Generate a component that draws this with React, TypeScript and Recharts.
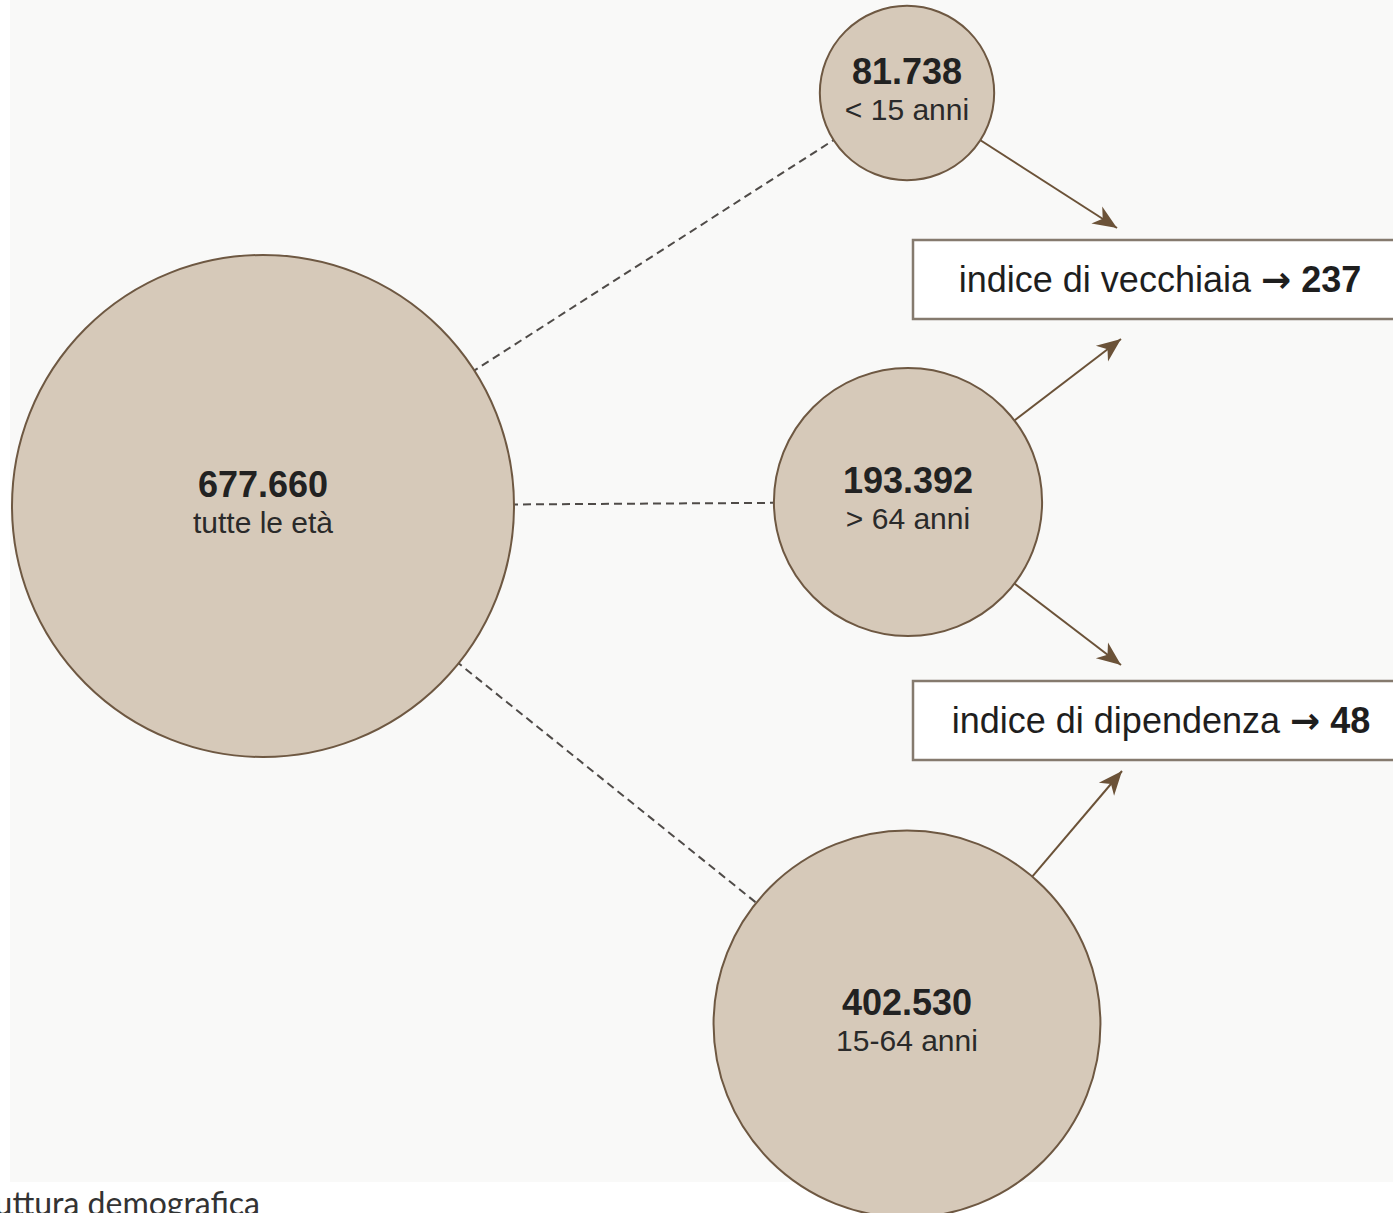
import React from "react";
import { ScatterChart, Scatter, XAxis, YAxis, ZAxis } from "recharts";

// ---- data ----
const groupLabels = ["tutte le età", "< 15 anni", "> 64 anni", "15-64 anni"];
const groupValues = [677660, 81738, 193392, 402530];
const indexLabels = ["indice di vecchiaia", "indice di dipendenza"];
const indexValues = [237, 48];
const caption = "Struttura demografica";

// ---- diagram layout (diagram units = pixels) ----
const W = 1393;
const H = 1213;
const nodeCenters: [number, number][] = [
  [263, 506],
  [907, 93],
  [908, 502],
  [907, 1024],
];
const dashedLinks: [number, number][] = [
  [0, 1],
  [0, 2],
  [0, 3],
];
const arrowLinks: [number, [number, number]][] = [
  [1, [1117, 228]],
  [2, [1121, 339]],
  [2, [1121, 665]],
  [3, [1122, 771]],
];
const boxCenters: [number, number][] = [
  [1160, 280],
  [1161, 721],
];
const maxRadius = 251;

const FONT = "'Liberation Sans', Arial, Helvetica, sans-serif";
const fmt = (v: number) => String(v).replace(/\B(?=(\d{3})+(?!\d))/g, ".");

const nodeData = groupValues.map((v, i) => ({
  x: nodeCenters[i][0],
  y: nodeCenters[i][1],
  value: v,
  label: groupLabels[i],
}));

const boxData = indexValues.map((v, i) => ({
  x: boxCenters[i][0],
  y: boxCenters[i][1],
  value: v,
  label: indexLabels[i],
}));

const NodeShape = (p: any) => {
  const r = p.width ? p.width / 2 : Math.sqrt((p.size || 0) / Math.PI);
  const d = p.payload;
  return (
    <g>
      <circle cx={p.cx} cy={p.cy} r={r} fill="#d6c9b9" stroke="#6e5842" strokeWidth={2} />
      <text x={p.cx} y={p.cy - 9} textAnchor="middle" fontFamily={FONT} fontSize={36} fontWeight="bold" fill="#222">
        {fmt(d.value)}
      </text>
      <text x={p.cx} y={p.cy + 27} textAnchor="middle" fontFamily={FONT} fontSize={30} fill="#2a2a2a">
        {d.label}
      </text>
    </g>
  );
};

const BoxShape = (p: any) => {
  const d = p.payload;
  return (
    <g>
      <rect x={913} y={p.cy - 40} width={520} height={79} fill="#ffffff" stroke="#857a6e" strokeWidth={2.5} />
      <text x={p.cx} y={p.cy + 12} textAnchor="middle" fontFamily={FONT} fontSize={36} fill="#1e1e1e">
        {d.label + " "}
        <tspan fontFamily="'DejaVu Sans', sans-serif" fontWeight="bold" fontSize={36}>{"→"}</tspan>
        <tspan fontWeight="bold">{" " + d.value}</tspan>
      </text>
    </g>
  );
};

const ArrowHead = (p: any) => {
  if (!p.payload || !p.payload.head) return <g />;
  return (
    <polygon
      points="0,0 -24,-10 -17,0 -24,10"
      transform={`translate(${p.cx},${p.cy}) rotate(${p.payload.angle})`}
      fill="#6b5238"
    />
  );
};

const Empty = () => <g />;

export default function App() {
  return (
    <div style={{ position: "absolute", left: 0, top: 0, width: W, height: H, background: "#ffffff", overflow: "hidden" }}>
      <div style={{ position: "absolute", left: 10, top: 0, width: W - 10, height: 1182, background: "#f9f9f8" }} />
      <div style={{ position: "absolute", left: 0, top: 0 }}>
        <ScatterChart width={W} height={H} margin={{ top: 0, right: 0, bottom: 0, left: 0 }}>
          <XAxis type="number" dataKey="x" domain={[0, W]} hide allowDataOverflow />
          <YAxis type="number" dataKey="y" domain={[0, H]} reversed hide allowDataOverflow />
          <ZAxis zAxisId="size" type="number" dataKey="value" domain={[0, groupValues[0]]} range={[0, Math.PI * maxRadius * maxRadius]} />
          <ZAxis zAxisId="aux" type="number" range={[10, 10]} />
          {dashedLinks.map(([a, b], i) => (
            <Scatter
              key={"d" + i}
              zAxisId="aux"
              data={[
                { x: nodeCenters[a][0], y: nodeCenters[a][1] },
                { x: nodeCenters[b][0], y: nodeCenters[b][1] },
              ]}
              line={{ stroke: "#4f4b48", strokeWidth: 2, strokeDasharray: "8 5" }}
              shape={Empty}
              isAnimationActive={false}
            />
          ))}
          {arrowLinks.map(([a, tip], i) => {
            const [sx, sy] = nodeCenters[a];
            const angle = (Math.atan2(tip[1] - sy, tip[0] - sx) * 180) / Math.PI;
            return (
              <Scatter
                key={"a" + i}
                zAxisId="aux"
                data={[
                  { x: sx, y: sy, head: false },
                  { x: tip[0], y: tip[1], head: true, angle },
                ]}
                line={{ stroke: "#6b5238", strokeWidth: 2 }}
                shape={ArrowHead}
                isAnimationActive={false}
              />
            );
          })}
          <Scatter zAxisId="size" data={nodeData} shape={NodeShape} isAnimationActive={false} />
          <Scatter zAxisId="aux" data={boxData} shape={BoxShape} isAnimationActive={false} />
        </ScatterChart>
      </div>
      <svg width={W} height={H} style={{ position: "absolute", left: 0, top: 0, pointerEvents: "none" }}>
        <text x={260} y={1215} textAnchor="end" fontFamily="Lato, 'Open Sans', sans-serif" fontSize={32} fill="#333">
          {caption}
        </text>
      </svg>
    </div>
  );
}
